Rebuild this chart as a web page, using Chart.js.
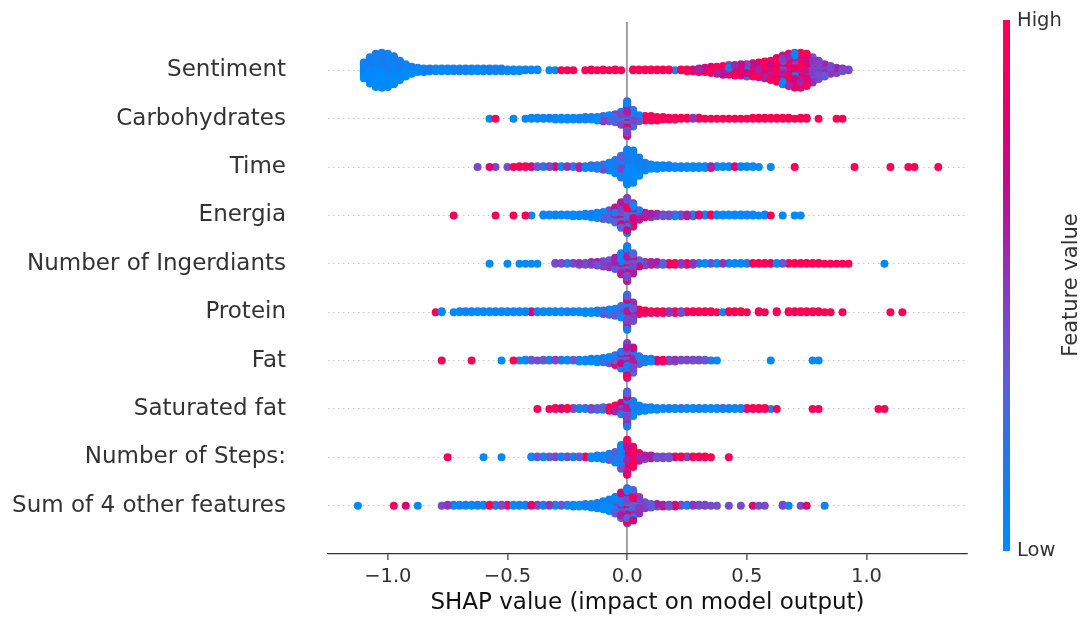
<!DOCTYPE html>
<html>
<head>
<meta charset="utf-8">
<script src="https://cdn.jsdelivr.net/npm/chart.js@4.4.1/dist/chart.umd.min.js"></script>
<style>
  html, body { margin: 0; padding: 0; background: #fff; }
</style>
</head>
<body>
<canvas id="shapChart" width="1092" height="617"></canvas>
<script>
// feature rows, top to bottom
const features = [
  "Sentiment", "Carbohydrates", "Time", "Energia", "Number of Ingerdiants",
  "Protein", "Fat", "Saturated fat", "Number of Steps:", "Sum of 4 other features"
];
const xTicks = [-1.0, -0.5, 0.0, 0.5, 1.0];

// samples are grouped into SHAP-value bins of this width; each row lists
// the first bin centre, how many samples fall in every bin, and a tone letter
// per bin for the feature values of those samples
const binWidth = 0.025;

const sentimentStart = -1.1;
const sentimentCounts = [
  19, 31, 39, 41, 39, 33, 23, 15, 9, 6,
  5, 4, 4, 4, 4, 4, 4, 4, 4, 4,
  4, 4, 4, 4, 3, 3, 3, 2, 2, 2,
  0, 1, 1, 1, 1, 1, 0, 1, 2, 1,
  2, 1, 2, 1, 0, 2, 2, 2, 2, 2,
  2, 2, 1, 2, 3, 3, 5, 6, 8, 9,
  11, 12, 13, 14, 15, 16, 18, 20, 23, 28,
  34, 38, 41, 41, 38, 30, 22, 15, 10, 7,
  4, 2
];
const sentimentTones = "bbbbbbbbbbbbbbbbbbbbbbbbbbbbbb" + "bbbrrrrrrr" + "rrrrrrrrrr" +
  "rrbrrqqqqq" + "qmqqmqqqqq" + "mqmqqppppp" + "pp";

const carbohydratesStart = -0.575;
const carbohydratesCounts = [
  1, 1, 0, 0, 1, 0, 1, 2, 2, 2,
  2, 3, 3, 3, 3, 3, 4, 4, 5, 7,
  8, 10, 16, 41, 20, 8, 6, 6, 5, 4,
  3, 3, 2, 2, 2, 2, 1, 1, 1, 1,
  1, 1, 1, 1, 2, 2, 2, 2, 2, 2,
  2, 1, 2, 2, 0, 1, 0, 0, 1, 1
];
const carbohydratesTones = "brbbbbbbbb" + "bbbbbbbbbm" + "lllmllrrrr" + "rrrrprrrrr" +
  "rrrrrrrrrr" + "rrrrrrrrrr";

const timeStart = -0.625;
const timeCounts = [
  1, 0, 1, 1, 0, 1, 1, 2, 2, 2,
  2, 2, 2, 2, 2, 2, 2, 3, 3, 4,
  5, 7, 10, 16, 26, 41, 38, 22, 10, 6,
  5, 4, 4, 3, 3, 3, 3, 3, 3, 3,
  2, 2, 2, 2, 2, 2, 2, 1, 0, 1,
  0, 0, 0, 1, 0, 0, 0, 0, 0, 0,
  0, 0, 0, 1, 0, 0, 0, 0, 0, 1,
  0, 0, 1, 1, 0, 0, 0, 1
];
const timeTones = "ppqppprrrq" + "llpqbplqll" + "llbblbbbbb" + "bbbbbbbbbq" +
  "bbbqbbbbbb" + "rrrrrrrrrr" + "rrrrrrrrrr" + "rrrrrrrr";

const energiaStart = -0.725;
const energiaCounts = [
  1, 0, 0, 0, 0, 0, 0, 1, 0, 0,
  1, 0, 1, 1, 0, 2, 2, 2, 2, 2,
  3, 3, 4, 5, 7, 9, 12, 18, 30, 41,
  28, 12, 6, 5, 4, 3, 3, 3, 3, 3,
  3, 2, 2, 2, 2, 2, 2, 2, 2, 2,
  2, 1, 2, 1, 0, 1, 0, 1, 1
];
const energiaTones = "rrrrrrrrrr" + "rrrbbbbbbb" + "bbbbbllmmm" + "mmqpppplpq" +
  "lqbrbbbbbb" + "bbbrbbbbb";

const ingredientsStart = -0.575;
const ingredientsCounts = [
  1, 0, 0, 1, 0, 1, 1, 1, 1, 0,
  0, 2, 2, 2, 2, 3, 3, 4, 5, 7,
  9, 14, 25, 41, 24, 8, 5, 4, 4, 3,
  3, 3, 3, 3, 3, 2, 2, 2, 2, 2,
  2, 2, 2, 2, 2, 2, 2, 2, 2, 2,
  2, 2, 2, 2, 2, 2, 1, 1, 1, 1,
  1, 0, 0, 0, 0, 0, 1
];
const ingredientsTones = "bbbbbbbbbb" + "bpplpppppp" + "ppmmmmmqpm" + "rrprplbpbp" +
  "bbblrrrqbl" + "rrrrrrrrrr" + "rrrrrrb";

const proteinStart = -0.8;
const proteinCounts = [
  1, 2, 0, 1, 2, 2, 2, 2, 2, 2,
  2, 2, 2, 2, 2, 2, 2, 2, 2, 2,
  2, 2, 2, 2, 2, 3, 3, 4, 5, 7,
  9, 14, 41, 22, 6, 4, 3, 3, 3, 3,
  3, 3, 2, 2, 2, 2, 2, 1, 1, 2,
  2, 2, 1, 0, 2, 1, 0, 2, 0, 2,
  2, 2, 2, 2, 2, 1, 1, 0, 1, 0,
  0, 0, 0, 0, 0, 0, 1, 0, 1
];
const proteinTones = "rbbbbbbbbb" + "bbbbbbqbbb" + "bbbbbbbbll" + "llmprrrrrp" +
  "rprrrrrrbr" + "rrrrrrrrrr" + "rrrrrrrrrr" + "rrrrrrrrr";

const fatStart = -0.775;
const fatCounts = [
  1, 0, 0, 0, 0, 1, 0, 0, 0, 0,
  1, 0, 1, 1, 2, 2, 1, 2, 2, 2,
  2, 2, 2, 3, 3, 4, 5, 6, 8, 12,
  20, 41, 30, 10, 5, 4, 3, 3, 3, 3,
  2, 2, 2, 2, 2, 1, 1, 0, 0, 0,
  0, 0, 0, 0, 0, 1, 0, 0, 0, 0,
  0, 0, 1, 1
];
const fatTones = "rrrrrrrrrr" + "bbrbblplbp" + "lblbbbbllm" + "mmmlbbqrpp" +
  "ppppllbbbb" + "bbbbbbbbbb" + "bbbb";

const saturatedFatStart = -0.375;
const saturatedFatCounts = [
  1, 0, 1, 2, 2, 2, 2, 2, 2, 3,
  3, 4, 5, 8, 14, 41, 18, 8, 5, 4,
  3, 2, 2, 2, 2, 2, 2, 2, 2, 2,
  2, 2, 2, 2, 2, 2, 2, 2, 2, 1,
  1, 0, 0, 0, 0, 0, 1, 1, 0, 0,
  0, 0, 0, 0, 0, 0, 0, 1, 1
];
const saturatedFatTones = "rrrrqrpllp" + "llrqmmbbbb" + "bbbblbbbbb" + "blbbbrrrrb" +
  "rrrrrrrrrr" + "rrrrrrrrr";

const stepsStart = -0.75;
const stepsCounts = [
  1, 0, 0, 0, 0, 0, 1, 0, 0, 1,
  0, 0, 0, 0, 2, 2, 2, 2, 2, 2,
  2, 2, 2, 2, 3, 4, 5, 8, 13, 28,
  41, 24, 10, 5, 4, 3, 3, 3, 2, 2,
  2, 2, 2, 2, 1, 0, 0, 1
];
const stepsTones = "rbbbbbbbbb" + "bbbbblblpl" + "pllrbbblll" + "qrqpqpppqr" + "prrrrrrr";

const otherStart = -1.125;
const otherCounts = [
  1, 0, 0, 0, 0, 0, 1, 0, 1, 0,
  1, 0, 0, 0, 1, 2, 2, 2, 2, 2,
  2, 2, 2, 2, 2, 2, 2, 2, 2, 2,
  2, 2, 2, 2, 2, 2, 3, 3, 4, 5,
  7, 10, 14, 20, 30, 41, 36, 20, 8, 5,
  4, 3, 3, 3, 2, 2, 2, 2, 2, 1,
  1, 0, 1, 0, 1, 0, 1, 1, 1, 0,
  0, 2, 1, 0, 1, 1, 0, 0, 1
];
const otherTones = "bbbbbbrbqb" + "bbbbppbblb" + "lbrlprbblq" + "plpblbbbbb" +
  "bbblmmmppl" + "pqpqplpppp" + "ppppppqppp" + "pplppqppl";

// feature values (0 = low, 1 = high) cycled through the samples of a bin
const tonePalettes = {
  b: [0.02, 0.08, 0.0, 0.12],
  l: [0.1, 0.35, 0.04, 0.25, 0.45],
  p: [0.42, 0.52, 0.36, 0.6, 0.47],
  m: [0.3, 0.62, 0.05, 0.9, 0.45, 0.15, 0.75],
  q: [0.82, 0.58, 0.96, 0.68, 1.0],
  r: [0.97, 1.0, 0.92]
};

const rows = [
  { start: sentimentStart, counts: sentimentCounts, tones: sentimentTones },
  { start: carbohydratesStart, counts: carbohydratesCounts, tones: carbohydratesTones },
  { start: timeStart, counts: timeCounts, tones: timeTones },
  { start: energiaStart, counts: energiaCounts, tones: energiaTones },
  { start: ingredientsStart, counts: ingredientsCounts, tones: ingredientsTones },
  { start: proteinStart, counts: proteinCounts, tones: proteinTones },
  { start: fatStart, counts: fatCounts, tones: fatTones },
  { start: saturatedFatStart, counts: saturatedFatCounts, tones: saturatedFatTones },
  { start: stepsStart, counts: stepsCounts, tones: stepsTones },
  { start: otherStart, counts: otherCounts, tones: otherTones }
];

// blue -> purple -> red colour scale
const colorStops = [
  [0.0, [0, 139, 251]], [0.1, [16, 128, 242]], [0.2, [46, 114, 230]],
  [0.3, [88, 96, 220]], [0.4, [114, 78, 208]], [0.5, [136, 58, 192]],
  [0.6, [168, 30, 166]], [0.7, [198, 10, 138]], [0.8, [224, 0, 114]],
  [0.9, [242, 0, 96]], [1.0, [255, 0, 82]]
];
function shapColor(f) {
  f = Math.max(0, Math.min(1, f));
  for (let i = 1; i < colorStops.length; i++) {
    const [p1, c1] = colorStops[i];
    const [p0, c0] = colorStops[i - 1];
    if (f <= p1) {
      const t = (f - p0) / (p1 - p0);
      const c = c0.map((v, k) => Math.round(v + (c1[k] - v) * t));
      return `rgb(${c[0]},${c[1]},${c[2]})`;
    }
  }
  return "rgb(255,0,82)";
}

// beeswarm layout: samples in one bin stack up and down from the row line
const points = [];
rows.forEach((row, i) => {
  const yRow = features.length - 1 - i;
  const maxLayer = Math.ceil((Math.max(...row.counts) - 1) / 2);
  const step = 0.38 / (maxLayer + 1);
  row.counts.forEach((n, b) => {
    const x = row.start + b * binWidth;
    const pal = tonePalettes[row.tones[b]];
    for (let j = 0; j < n; j++) {
      const layer = Math.ceil(j / 2) * (j % 2 ? 1 : -1);
      points.push({ x, y: yRow + layer * step, f: pal[j % pal.length], order: (b * 7 + j * 13) % 17 });
    }
  });
});
points.sort((a, b) => a.order - b.order);

const colorBar = {
  id: "colorBar",
  afterDraw(chart) {
    const ctx = chart.ctx;
    const top = 20, bottom = 551, x = 1003, w = 7;
    const grad = ctx.createLinearGradient(0, bottom, 0, top);
    colorStops.forEach(([p, c]) => grad.addColorStop(p, `rgb(${c[0]},${c[1]},${c[2]})`));
    ctx.save();
    ctx.fillStyle = grad;
    ctx.fillRect(x, top, w, bottom - top);
    ctx.fillStyle = "#333";
    ctx.font = "19.5px 'DejaVu Sans'";
    ctx.textBaseline = "middle";
    ctx.textAlign = "left";
    ctx.fillText("High", 1017, top + 1);
    ctx.fillText("Low", 1017, bottom);
    ctx.translate(1072, 285);
    ctx.rotate(-Math.PI / 2);
    ctx.textAlign = "center";
    ctx.font = "21px 'DejaVu Sans'";
    ctx.fillText("Feature value", 0, 0);
    ctx.restore();
  }
};

Chart.defaults.font.family = "'DejaVu Sans', sans-serif";

new Chart(document.getElementById("shapChart"), {
  type: "scatter",
  data: {
    datasets: [{
      data: points.map(p => ({ x: p.x, y: p.y })),
      pointBackgroundColor: points.map(p => shapColor(p.f)),
      pointBorderWidth: 0,
      pointRadius: 4,
      pointHoverRadius: 4
    }]
  },
  options: {
    responsive: false,
    animation: false,
    events: [],
    layout: { padding: { top: 22, right: 125, left: 0, bottom: 0 } },
    plugins: { legend: { display: false }, tooltip: { enabled: false } },
    scales: {
      x: {
        type: "linear",
        min: -1.25,
        max: 1.42,
        afterBuildTicks: s => { s.ticks = xTicks.map(v => ({ value: v })); },
        afterFit: s => { s.height = 63; s.paddingLeft = 0; s.paddingRight = 0; },
        border: { display: true, color: "#333", width: 1.2 },
        grid: {
          color: c => (c.tick && c.tick.value === 0 ? "#999" : "rgba(0,0,0,0)"),
          lineWidth: 1.8,
          tickColor: "#333",
          tickLength: 6,
          tickWidth: 1.2
        },
        ticks: {
          color: "#333",
          padding: 5,
          font: { size: 19.5 },
          callback: v => (v < 0 ? "\u2212" : "") + Math.abs(v).toFixed(1)
        },
        title: {
          display: true,
          text: "SHAP value (impact on model output)",
          color: "#111",
          font: { size: 23 },
          padding: { top: 0, bottom: 0 }
        }
      },
      y: {
        type: "linear",
        min: -1,
        max: 10,
        afterBuildTicks: s => { s.ticks = features.map((f, i) => ({ value: i })); },
        afterFit: s => { s.width = 328; s.paddingTop = 0; s.paddingBottom = 0; },
        border: { display: false, dash: [1.5, 3.5] },
        grid: { color: "#c8c8c8", lineWidth: 1, drawTicks: false },
        ticks: {
          color: "#333",
          padding: 42,
          font: { size: 23 },
          callback: v => features[features.length - 1 - v]
        }
      }
    }
  },
  plugins: [colorBar]
});
</script>
</body>
</html>
